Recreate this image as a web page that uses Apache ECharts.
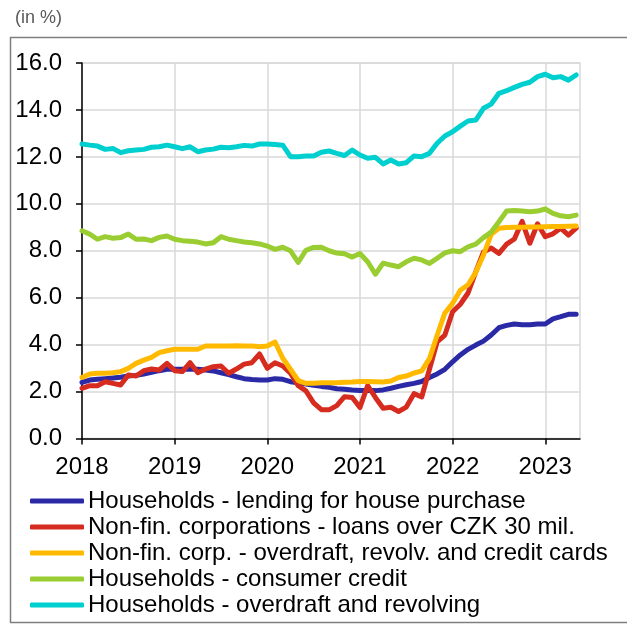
<!DOCTYPE html>
<html>
<head>
<meta charset="utf-8">
<script src="https://cdn.jsdelivr.net/npm/echarts@6/dist/echarts.min.js"></script>
<style>
html,body{margin:0;padding:0;background:#fff;}
#chart{width:627px;height:626px;}
</style>
</head>
<body>
<div id="chart"></div>
<script>
// Monthly data, Jan 2018 .. May 2023 (65 months)
const startYear = 2018;
const yearTicks = ['2018','2019','2020','2021','2022','2023'];
const yTicks = [0,2,4,6,8,10,12,14,16];

const seriesNames = [
  'Households - lending for house purchase',
  'Non-fin. corporations - loans over CZK 30 mil.',
  'Non-fin. corp. - overdraft, revolv. and credit cards',
  'Households - consumer credit',
  'Households - overdraft and revolving'
];

const housePurchase = [2.39,2.49,2.52,2.55,2.58,2.61,2.66,2.69,2.75,2.82,2.89,2.95,
 2.95,2.95,2.95,2.95,2.92,2.88,2.80,2.72,2.63,2.55,2.51,2.49,
 2.49,2.55,2.52,2.42,2.38,2.32,2.27,2.22,2.18,2.12,2.10,2.07,
 2.05,2.04,2.04,2.07,2.14,2.22,2.29,2.35,2.43,2.60,2.75,2.95,
 3.27,3.56,3.80,3.98,4.15,4.41,4.72,4.82,4.88,4.85,4.85,4.88,
 4.88,5.10,5.19,5.29,5.29];

const corpLoans = [2.14,2.25,2.25,2.42,2.35,2.28,2.71,2.66,2.89,2.96,2.92,3.20,
 2.89,2.85,3.23,2.80,2.96,3.06,3.09,2.78,2.96,3.17,3.23,3.60,
 2.99,3.23,3.09,2.78,2.25,2.03,1.52,1.23,1.22,1.40,1.78,1.75,
 1.32,2.25,1.75,1.29,1.33,1.15,1.34,1.91,1.77,2.95,4.12,4.41,
 5.40,5.72,6.20,7.10,7.95,8.12,7.89,8.28,8.50,9.25,8.32,9.15,
 8.60,8.72,8.96,8.67,8.96];

const corpOverdraft = [2.60,2.75,2.78,2.78,2.80,2.85,2.99,3.20,3.34,3.46,3.66,3.74,
 3.80,3.80,3.80,3.80,3.94,3.94,3.94,3.94,3.95,3.94,3.94,3.91,
 3.94,4.11,3.42,2.95,2.47,2.35,2.35,2.38,2.38,2.38,2.40,2.41,
 2.43,2.43,2.42,2.41,2.45,2.60,2.66,2.79,2.88,3.40,4.40,5.35,
 5.76,6.32,6.55,7.08,7.82,8.70,8.96,8.99,9.00,9.00,9.01,9.01,
 9.02,9.03,9.03,9.04,9.05];

const consumerCredit = [8.85,8.71,8.49,8.60,8.53,8.56,8.71,8.49,8.50,8.43,8.57,8.63,
 8.49,8.43,8.40,8.37,8.29,8.34,8.60,8.49,8.43,8.37,8.34,8.29,
 8.20,8.06,8.15,8.00,7.50,8.02,8.14,8.15,8.00,7.90,7.87,7.73,
 7.88,7.53,7.00,7.47,7.39,7.32,7.53,7.68,7.61,7.46,7.68,7.91,
 8.00,7.96,8.17,8.28,8.56,8.80,9.24,9.69,9.71,9.69,9.66,9.69,
 9.78,9.59,9.49,9.45,9.52];

const hhOverdraft = [12.55,12.50,12.46,12.32,12.36,12.18,12.26,12.29,12.32,12.41,12.43,12.50,
 12.43,12.35,12.43,12.22,12.29,12.33,12.41,12.39,12.43,12.49,12.46,12.55,
 12.55,12.53,12.50,12.01,12.01,12.04,12.04,12.20,12.25,12.15,12.06,12.29,
 12.08,11.94,11.98,11.70,11.87,11.70,11.75,12.04,12.01,12.15,12.58,12.89,
 13.07,13.31,13.53,13.57,14.07,14.25,14.71,14.82,14.96,15.09,15.18,15.42,
 15.52,15.37,15.42,15.27,15.49];

const colors = ['#2a2aa6','#d62b1f','#ffba00','#9acd32','#00cfcf'];
const allValues = [housePurchase, corpLoans, corpOverdraft, consumerCredit, hhOverdraft];

const FONT = "'Liberation Sans', Arial, sans-serif";
const tickValues = yearTicks.map((y, k) => (Number(y) - startYear) * 12);

const chart = echarts.init(document.getElementById('chart'), null, {renderer: 'canvas'});
chart.setOption({
  animation: false,
  color: colors,
  title: {
    text: '(in %)', left: 10, top: 4,
    textStyle: {fontFamily: FONT, fontSize: 18, fontWeight: 'normal', color: '#595959'}
  },
  graphic: [{
    type: 'rect', z: -1, silent: true,
    shape: {x: 10.5, y: 37.5, width: 640, height: 585},
    style: {fill: 'none', stroke: '#7f7f7f', lineWidth: 1.5}
  }],
  grid: {
    left: 82, top: 63, width: 498, height: 375.5,
    show: true, borderColor: '#d9d9d9', borderWidth: 1.5, backgroundColor: 'transparent'
  },
  legend: {
    orient: 'vertical', left: 30, top: 489,
    itemWidth: 54, itemHeight: 5, itemGap: 2,
    icon: 'roundRect',
    padding: 0,
    textStyle: {fontFamily: FONT, fontSize: 24, color: '#000', lineHeight: 24, padding: [0,0,0,-1]},
    data: seriesNames
  },
  xAxis: {
    type: 'value', min: 0, max: 64.5,
    axisLine: {show: true, lineStyle: {color: '#000', width: 1.5}},
    axisTick: {show: true, length: 6, customValues: tickValues, lineStyle: {color: '#000', width: 1.5}},
    axisLabel: {
      customValues: tickValues, margin: 17,
      fontFamily: FONT, fontSize: 24, color: '#000',
      formatter: v => yearTicks[Math.round(v / 12)]
    },
    splitLine: {show: true, lineStyle: {color: '#d9d9d9', width: 1.5}}
  },
  yAxis: {
    type: 'value', min: 0, max: 16, interval: 2,
    axisLine: {show: true, lineStyle: {color: '#000', width: 1.5}},
    axisTick: {show: true, length: 6, lineStyle: {color: '#000', width: 1.5}},
    axisLabel: {
      margin: 20, fontFamily: FONT, fontSize: 24, color: '#000',
      formatter: v => v.toFixed(1)
    },
    splitLine: {show: true, lineStyle: {color: '#d9d9d9', width: 1.5}}
  },
  series: seriesNames.map((name, k) => ({
    name: name,
    type: 'line',
    showSymbol: false,
    symbol: 'none',
    data: allValues[k].map((v, i) => [i, v]),
    lineStyle: {width: 5, color: colors[k], cap: 'round', join: 'round'},
    itemStyle: {color: colors[k]},
    z: 2 + k
  }))
});
</script>
</body>
</html>
